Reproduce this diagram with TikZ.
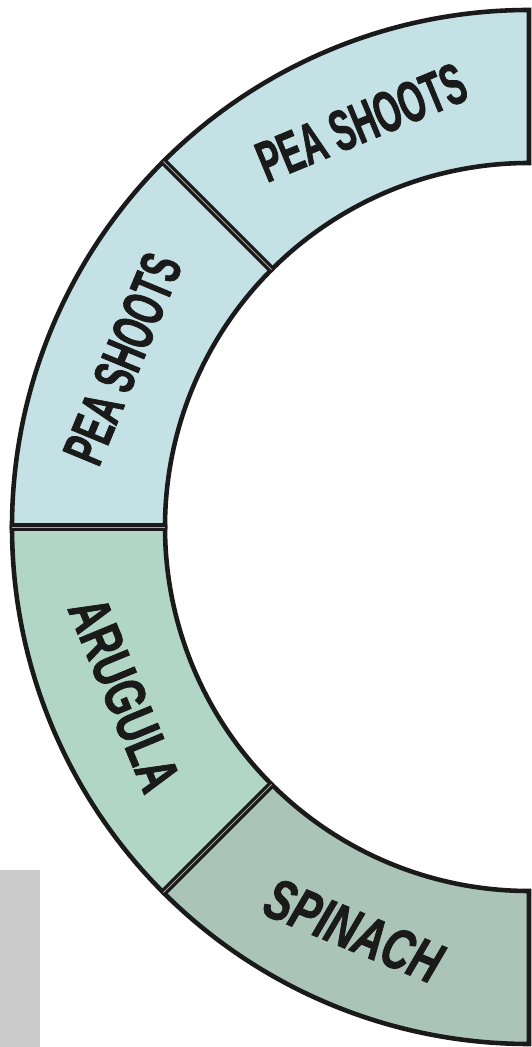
\documentclass[tikz,border=0pt]{standalone}
\usepackage{fontspec}
\setmainfont{Liberation Sans}
\newfontfamily\peafont[FakeBold=1.2, FakeStretch=0.58]{Liberation Sans Bold}
\newfontfamily\ringfont[FakeBold=1.2, FakeStretch=0.70]{Liberation Sans Bold}
\newfontfamily\ringslant[FakeBold=1.2, FakeStretch=0.71]{Liberation Sans Bold Italic}
\definecolor{ringline}{HTML}{1A1A1A}
\definecolor{peablue}{HTML}{C4E1E5}
\definecolor{arugreen}{HTML}{B1D6C5}
\definecolor{spingreen}{HTML}{AAC4B7}
\definecolor{sidegray}{HTML}{CACACA}
\tikzset{
  sector/.style={draw=ringline, line width=2.6pt, line join=miter},
  divider/.style={draw=ringline, line width=4.2pt},
  gapline/.style={draw=gray!70, line width=0.5pt},
  ringtext/.style={font=\fontsize{33}{33}\selectfont, inner sep=0pt, text=ringline}
}
\begin{document}
\begin{tikzpicture}[x=0.02cm, y=0.02cm]
\useasboundingbox (0,0) rectangle (531,1047);
\coordinate (c) at (529,520);
% grey block at the lower left
\fill[sidegray] (0,0) rectangle (40,177);
% ring sectors
\foreach \a/\b/\col in {90/135/peablue,135/180/peablue,180/225/arugreen,225/270/spingreen}
  \filldraw[sector, fill=\col] ([shift={(c)}]\a:517) arc[start angle=\a, end angle=\b, radius=517]
    -- ([shift={(c)}]\b:364) arc[start angle=\b, end angle=\a, radius=364] -- cycle;
% double dividers
\foreach \a in {135,180,225} {
  \draw[divider] ([shift={(c)}]\a:364) -- ([shift={(c)}]\a:517);
  \draw[gapline] ([shift={(c)}]\a:364) -- ([shift={(c)}]\a:517);
}
% labels
\node[ringtext, rotate=22.5] (peatop) at ([shift={(c)}]112.5:438) {\peafont PEA SHOOTS};
\node[ringtext, rotate=67.5] (peaside) at ([shift={(c)}]157.5:440) {\peafont PEA SHOOTS};
\node[ringtext, rotate=-67.5] (arugula) at ([shift={(c)}]202.5:438) {\ringfont ARUGULA};
\node[ringtext, rotate=-22.5] (spinach) at ([shift={(c)}]246.5:440) {\ringslant SPINACH};
\end{tikzpicture}
\end{document}
